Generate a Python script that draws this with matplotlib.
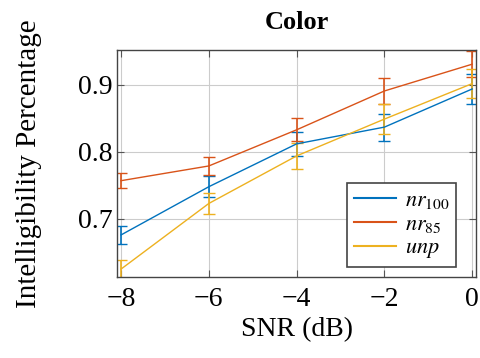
import numpy as np
import matplotlib.pyplot as plt
from matplotlib.lines import Line2D

snr = [-8, -6, -4, -2, 0]

nr100 = [0.676, 0.748, 0.812, 0.837, 0.894]
nr100_err = [0.013, 0.016, 0.018, 0.020, 0.022]
nr85 = [0.757, 0.779, 0.833, 0.891, 0.931]
nr85_err = [0.011, 0.014, 0.017, 0.019, 0.019]
unp = [0.625, 0.723, 0.794, 0.849, 0.902]
unp_err = [0.013, 0.016, 0.019, 0.022, 0.022]

labels = [r'$nr_{100}$', r'$nr_{85}$', r'$unp$']
colors = ['#0072BD', '#D95319', '#EDB120']

plt.rcParams['font.family'] = 'Liberation Serif'
plt.rcParams['mathtext.fontset'] = 'stix'

fig = plt.figure(figsize=(4.8, 3.58), dpi=100)
ax = fig.add_axes([0.244, 0.226, 0.748, 0.634])

handles = []
for y, e, lab, c in zip([nr100, nr85, unp], [nr100_err, nr85_err, unp_err], labels, colors):
    ax.errorbar(snr, y, yerr=e, color=c, lw=1.0, elinewidth=1.2, capsize=4,
                capthick=1.0)
    handles.append(Line2D([], [], color=c, lw=1.5, label=lab))

ax.set_xlim(-8.09, 0.09)
ax.set_ylim(0.613, 0.952)
ax.set_xticks([-8, -6, -4, -2, 0])
ax.set_xticklabels(['\u22128', '\u22126', '\u22124', '\u22122', '0'])
ax.set_yticks([0.7, 0.8, 0.9])
ax.set_yticklabels(['0.7', '0.8', '0.9'])
ax.grid(True, color='#cccccc', lw=0.8)
ax.set_axisbelow(True)
ax.tick_params(direction='in', length=5, color='#555555', labelsize=20, top=True, right=True)
ax.tick_params(axis='x', pad=7)
for s in ax.spines.values():
    s.set_color('#444444')
    s.set_linewidth(1.0)

ax.set_xlabel('SNR (dB)', fontsize=20, labelpad=4)
ax.set_ylabel('Intelligibility Percentage', fontsize=21, labelpad=26)
ax.set_title('Color', fontsize=19, fontweight='bold', pad=15)

leg = ax.legend(handles=handles, loc='lower right', fontsize=16, fancybox=False,
                framealpha=1, edgecolor='#444444', handlelength=1.9,
                handletextpad=0.4, borderpad=0.3, labelspacing=0.15,
                borderaxespad=0, bbox_to_anchor=(0.944, 0.044))
leg.get_frame().set_linewidth(1.2)

fig.savefig('out.png', dpi=100)
